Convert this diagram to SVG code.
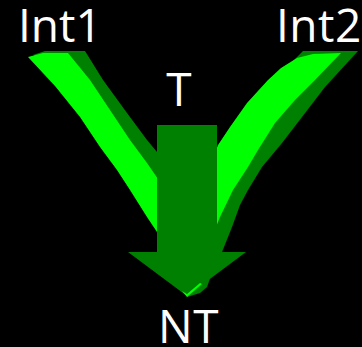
<svg xmlns="http://www.w3.org/2000/svg" width="362" height="347" viewBox="0 0 362 347">
<style>
.lbl{fill:#ffffff;font-family:"Open Sans","Noto Sans","Liberation Sans",sans-serif;font-size:46px}
.dk{fill:#008000}
.lt{fill:#00ff00}
</style>
<rect x="0" y="0" width="362" height="347" fill="#000000"/>
<g id="connectors">
<g id="arm-int1">
<path class="dk" d="M33,55 L45,51 L85,51 L103,80 L127,113 L147,140 L157,152 L163,162 L190,290 L186,292 L160,190 L150,172 L100,120 L40,58 Z"/>
<path class="lt" d="M28,57 L43,53 L68,53 L90,80 L110,110 L130,140 L147,163 L158,179 L168,210 L188,292 L157,232 L147,217 L130,190 L117,170 L100,147 L80,117 L55,86 Z"/>
</g>
<g id="arm-int2">
<path class="dk" d="M303,51 L358,51 L325,87 L302,117 L282,143 L262,167 L248,190 L240,205 L232,227 L222,252 L213,270 L207,287 L200,293 L187,297 L200,250 L212,160 L216,150 L290,64 L297,57 Z"/>
<path class="lt" d="M297,58 L313,54 L341,53 L315,80 L295,100 L275,123 L258,150 L248,167 L233,190 L220,217 L205,255 L190,290 L200,250 L212,160 L218,145 L230,127 L247,103 L268,80 L281,68 Z"/>
</g>
</g>
<g id="node-T">
<path class="dk" d="M157,125 H217 V252 H246 L187,296 L128,252 H157 Z"/>
<path class="lt" d="M182,291 L187,297 L202,284 L200,283 L187,294 Z"/>
<text class="lbl" x="179" y="106" text-anchor="middle">T</text>
</g>
<g id="node-Int1">
<text class="lbl" x="18" y="42">Int1</text>
</g>
<g id="node-Int2">
<text class="lbl" x="276" y="42" letter-spacing="0.5">Int2</text>
</g>
<g id="node-NT">
<text class="lbl" x="188.5" y="343" text-anchor="middle" letter-spacing="0.5">NT</text>
</g>
</svg>
